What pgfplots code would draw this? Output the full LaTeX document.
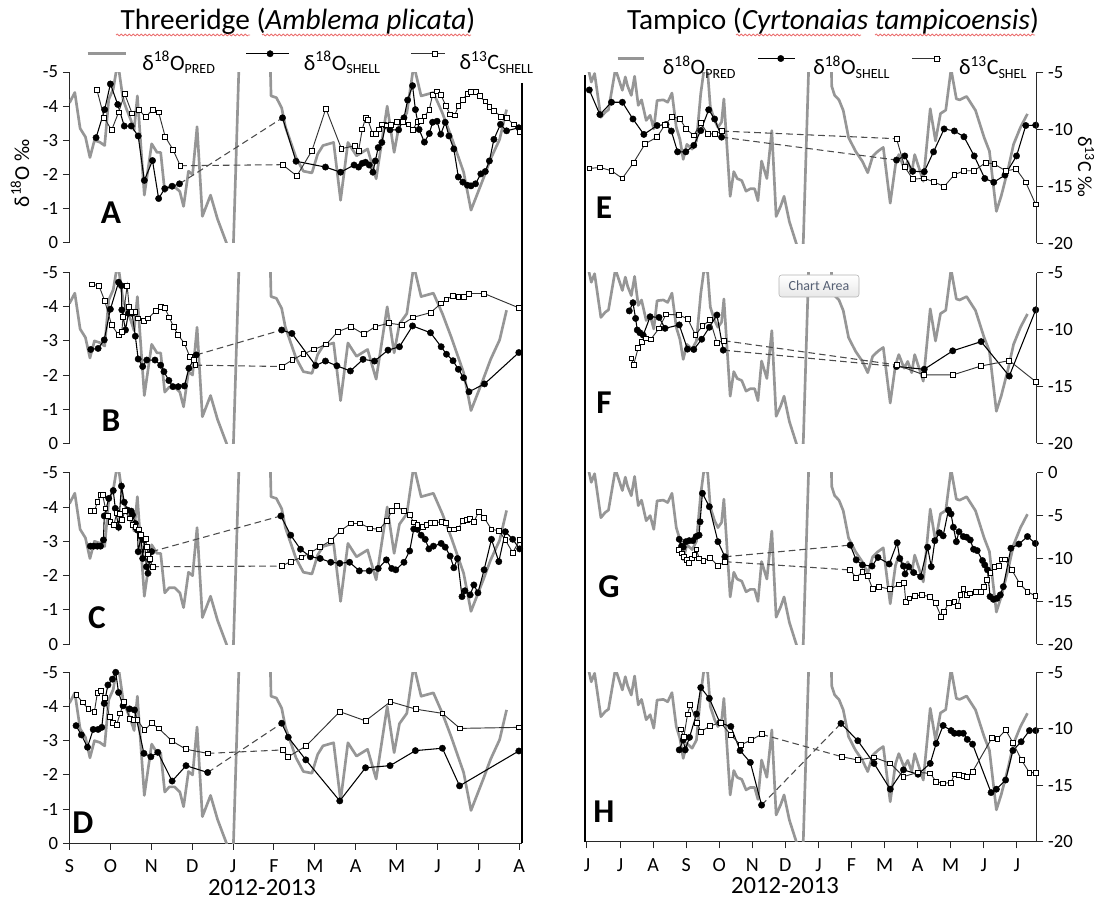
\documentclass[border=0pt]{standalone}
\usepackage{pgfplots}
\pgfplotsset{compat=1.18}
\usepackage{pgfplotstable}
\usepackage{fontspec}
\setmainfont{Carlito}
\usetikzlibrary{decorations.pathmorphing}

\definecolor{predgray}{RGB}{150,150,150}
\definecolor{axcol}{RGB}{40,40,40}
\definecolor{squig}{RGB}{235,110,110}

\newcommand{\sub}[1]{\raisebox{-0.35ex}{\fontsize{10.5}{11}\selectfont #1}}

\pgfplotstableread{
x y
0.00 -4.1
0.13 -4.4
0.26 -3.35
0.39 -3.1
0.50 -2.5
0.61 -3.0
0.74 -2.95
0.86 -2.85
0.96 -4.2
1.07 -4.5
1.18 -5.3
1.31 -4.2
1.40 -3.9
1.50 -3.6
1.58 -3.3
1.66 -4.3
1.83 -1.4
2.01 -2.9
2.14 -2.65
2.23 -2.65
2.33 -1.5
2.44 -1.65
2.57 -1.65
2.70 -1.5
2.79 -1.07
2.91 -2.1
3.01 -2.0
3.12 -3.4
3.25 -0.78
3.45 -1.4
3.62 -0.7
3.84 0.0
3.93 0.3
4.01 0.0
4.40 -15
4.70 -15
4.93 -4.3
5.06 -4.25
5.19 -3.95
5.28 -3.4
5.54 -2.5
5.72 -2.1
5.93 -2.05
6.07 -2.6
6.20 -2.85
6.46 -2.94
6.63 -1.25
6.81 -2.94
7.02 -2.55
7.29 -2.75
7.50 -1.88
7.77 -4.0
7.94 -2.65
8.07 -3.5
8.25 -3.8
8.42 -5.2
8.60 -4.3
8.90 -4.4
9.12 -3.8
9.34 -3.1
9.64 -2.07
9.82 -0.96
10.12 -1.88
10.30 -2.46
10.52 -3.03
10.69 -3.9
}\predL

\pgfplotstableread{
x y
0.02 -5.2
0.13 -4.72
0.23 -4.97
0.42 -3.69
0.55 -3.84
0.65 -3.91
0.86 -5.1
1.07 -4.48
1.16 -4.87
1.23 -4.6
1.34 -4.33
1.44 -4.89
1.55 -4.04
1.65 -4.2
1.79 -3.6
1.91 -3.75
2.02 -3.35
2.12 -4.18
2.31 -4.20
2.44 -4.13
2.57 -4.40
2.70 -3.40
2.81 -3.05
2.91 -2.46
3.02 -2.9
3.18 -2.76
3.31 -3.0
3.44 -4.38
3.54 -5.1
3.65 -5.0
3.73 -3.99
3.86 -3.6
3.96 -3.40
4.07 -3.55
4.14 -4.23
4.33 -1.38
4.44 -2.1
4.54 -1.9
4.68 -1.84
4.81 -1.53
4.94 -1.6
5.07 -1.6
5.17 -1.25
5.28 -2.41
5.44 -1.9
5.59 -3.30
5.72 -0.79
5.86 -1.1
5.96 -1.38
6.12 -0.64
6.33 0.0
6.44 0.3
6.54 0.0
6.90 -11.25
7.30 -12
7.40 -4.6
7.49 -4.33
7.62 -4.2
7.75 -3.89
7.91 -3.1
8.12 -2.7
8.33 -2.4
8.49 -2.07
8.64 -2.55
8.80 -2.7
8.96 -2.81
9.17 -1.18
9.33 -2.3
9.43 -2.6
9.59 -2.2
9.70 -2.4
9.82 -2.07
9.91 -2.6
10.17 -1.82
10.38 -3.94
10.54 -3.0
10.69 -3.8
10.85 -3.9
11.01 -5.1
11.17 -4.23
11.27 -4.2
11.48 -4.3
11.75 -3.89
12.01 -3.1
12.17 -2.7
12.38 -0.94
12.53 -1.4
12.74 -2.2
12.90 -2.9
13.11 -3.4
13.32 -3.79
}\predR

\pgfplotsset{
  every axis/.append style={
    scale only axis,
    /pgf/number format/assume math mode=true,
    tick label style={font=\fontsize{14}{16}\selectfont, text=black},
    tick align=outside,
    major tick length=5pt,
    axis line style={axcol, line width=0.75pt},
    every tick/.style={axcol, line width=0.75pt},
  },
  pred/.style={no marks, line width=2pt, predgray, line join=round},
  o18/.style={black, line width=0.8pt, mark=*, mark size=2.4pt, mark options={solid, fill=black, draw=black, line width=0.3pt}},
  c13/.style={black!80, line width=0.7pt, mark=square*, mark size=1.8pt, mark options={solid, fill=white, draw=black, line width=0.6pt}},
  bridge/.style={no marks, black!70, line width=0.8pt, dash pattern=on 5pt off 3pt},
  predlegL/.style={pred, legend image code/.code={\draw[##1] (0pt,6pt) -- (29pt,6pt);}},
  o18legL/.style={o18, legend image code/.code={\draw[mark repeat=2,mark phase=2,##1] plot coordinates {(0pt,6pt) (18pt,6pt) (32pt,6pt)};}},
  c13legL/.style={c13, legend image code/.code={\draw[mark repeat=2,mark phase=2,##1] plot coordinates {(0pt,6pt) (18pt,6pt) (25pt,6pt)};}},
  predlegR/.style={pred, legend image code/.code={\draw[##1] (0pt,6pt) -- (20pt,6pt);}},
  o18legR/.style={o18, legend image code/.code={\draw[mark repeat=2,mark phase=2,##1] plot coordinates {(0pt,6pt) (17pt,6pt) (28pt,6pt)};}},
  c13legR/.style={c13, legend image code/.code={\draw[mark repeat=2,mark phase=2,##1] plot coordinates {(0pt,6pt) (19pt,6pt) (22pt,6pt)};}},
  leftp/.style={width=339.15pt, xmin=0, xmax=11.06, ymin=-5, ymax=0, y dir=reverse,
    ytick={-5,-4,-3,-2,-1,0}, axis y line*=left},
  rightp/.style={width=338.775pt, xmin=-0.06, xmax=13.6, ymin=-5, ymax=0, y dir=reverse,
    axis y line=none},
  rights/.style={width=338.775pt, xmin=-0.06, xmax=13.6, ymin=-20, ymax=-5,
    ytick={-20,-15,-10,-5}, axis y line*=right, axis x line=none},
  noxaxis/.style={axis x line=none},
  monthsL/.style={axis x line*=bottom, xtick={0,...,11}, xticklabels={S,O,N,D,J,F,M,A,M,J,J,A},
    xticklabel style={font=\fontsize{15}{17}\selectfont, yshift=-4pt}},
  monthsR/.style={axis x line*=bottom, xtick={0,...,13}, xticklabels={J,J,A,S,O,N,D,J,F,M,A,M,J,J},
    xticklabel style={font=\fontsize{15}{17}\selectfont, yshift=-4pt}},
}

\begin{document}
\begin{tikzpicture}
\path[use as bounding box] (0,0) rectangle (829.5pt,678.75pt);

% ---------------- Panel A
\begin{axis}[leftp, noxaxis, at={(52.125pt,496.5pt)}, height=128.25pt,
  legend columns=3,
  legend style={draw=none, fill=none, at={(0.0365,1.06)}, anchor=west, inner sep=0pt,
    font=\fontsize{16.5}{19}\selectfont,
    /tikz/every even column/.append style={column sep=21pt},
    /tikz/every odd column/.append style={column sep=9pt}},
  legend cell align=left]
\addlegendimage{predlegL}\addlegendentry{δ\textsuperscript{18}O\sub{PRED}}
\addlegendimage{o18legL}\addlegendentry{δ\textsuperscript{18}O\sub{SHELL}}
\addlegendimage{c13legL}\addlegendentry{δ\textsuperscript{13}C\sub{SHELL}}
\addplot[pred, forget plot] table {\predL};
\addplot[o18, forget plot] coordinates {(0.65,-3.08)(0.86,-3.90)(1.00,-4.65)(1.18,-4.05)(1.34,-3.42)(1.51,-3.42)(1.68,-3.13)(1.83,-1.83)(2.03,-2.41)(2.18,-1.30)(2.33,-1.59)(2.51,-1.66)(2.69,-1.73)};
\addplot[bridge, forget plot] coordinates {(2.69,-1.73)(5.21,-3.66)};
\addplot[o18, forget plot] coordinates {(5.21,-3.66)(5.54,-2.39)(6.26,-2.22)(6.63,-2.07)(6.96,-2.28)(7.07,-2.22)(7.16,-2.33)(7.24,-2.36)(7.33,-2.28)(7.42,-2.07)(7.48,-2.40)(7.55,-2.79)(7.64,-2.94)(7.73,-3.44)(7.84,-3.31)(8.05,-3.31)(8.18,-3.66)(8.27,-4.18)(8.39,-4.60)(8.46,-3.90)(8.55,-3.32)(8.68,-2.95)(8.80,-3.20)(8.88,-3.53)(8.99,-3.56)(9.08,-3.18)(9.19,-3.53)(9.28,-3.13)(9.40,-2.75)(9.51,-1.93)(9.62,-1.78)(9.73,-1.69)(9.82,-1.67)(9.93,-1.73)(10.06,-2.02)(10.17,-2.09)(10.27,-2.40)(10.38,-3.03)(10.54,-3.47)(10.69,-3.28)(10.99,-3.37)};
\addplot[c13, forget plot] coordinates {(0.67,-4.48)(0.85,-3.66)(1.03,-3.30)(1.20,-3.82)(1.35,-4.36)(1.53,-3.79)(1.70,-3.90)(1.86,-3.68)(2.03,-3.90)(2.18,-3.82)(2.34,-3.11)(2.53,-2.73)(2.71,-2.26)};
\addplot[bridge, forget plot] coordinates {(2.71,-2.26)(5.21,-2.29)};
\addplot[c13, forget plot] coordinates {(5.21,-2.29)(5.56,-1.96)(5.93,-2.70)(6.27,-3.93)(6.65,-2.76)(6.98,-2.84)(7.07,-2.70)(7.16,-3.32)(7.24,-3.66)(7.30,-3.59)(7.42,-3.18)(7.50,-3.18)(7.57,-3.32)(7.64,-3.47)(7.77,-3.44)(7.87,-3.46)(8.00,-3.54)(8.16,-3.54)(8.29,-3.47)(8.39,-3.31)(8.51,-3.53)(8.60,-3.56)(8.68,-3.70)(8.80,-3.90)(8.88,-4.34)(8.99,-4.43)(9.08,-4.34)(9.21,-4.00)(9.31,-3.76)(9.42,-3.73)(9.51,-4.00)(9.62,-4.19)(9.73,-4.37)(9.82,-4.41)(9.93,-4.41)(10.03,-4.29)(10.17,-4.14)(10.27,-3.98)(10.38,-3.87)(10.56,-3.69)(10.69,-3.66)(10.86,-3.47)(11.01,-3.25)};
\end{axis}

% ---------------- Panel B
\begin{axis}[leftp, noxaxis, at={(52.125pt,346.275pt)}, height=127.95pt]
\addplot[pred] table {\predL};
\addplot[o18] coordinates {(0.52,-2.75)(0.70,-2.78)(0.85,-3.03)(1.00,-3.93)(1.20,-4.72)(1.27,-4.62)(1.28,-3.91)(1.37,-3.32)(1.44,-3.81)(1.53,-3.81)(1.61,-3.14)(1.68,-2.47)(1.79,-2.25)(1.89,-2.44)(2.09,-2.44)(2.23,-2.29)(2.31,-2.10)(2.43,-1.84)(2.53,-1.66)(2.66,-1.66)(2.81,-1.68)(2.92,-2.20)(3.10,-2.59)};
\addplot[bridge] coordinates {(3.10,-2.59)(5.19,-3.32)};
\addplot[o18] coordinates {(5.19,-3.32)(5.44,-3.22)(6.02,-2.28)(6.26,-2.41)(6.54,-2.27)(6.87,-2.12)(7.18,-2.46)(7.46,-2.41)(7.79,-2.73)(8.07,-2.83)(8.39,-3.44)(8.83,-3.24)(9.09,-2.83)(9.22,-2.61)(9.38,-2.42)(9.51,-2.17)(9.64,-1.92)(9.77,-1.51)(10.15,-1.74)(10.99,-2.66)};
\addplot[c13] coordinates {(0.55,-4.66)(0.72,-4.62)(0.86,-4.18)(1.03,-3.47)(1.20,-3.17)(1.28,-3.27)(1.31,-3.71)(1.41,-4.62)(1.46,-4.00)(1.53,-3.86)(1.61,-3.86)(1.68,-3.66)(1.81,-3.59)(1.92,-3.66)(2.11,-3.88)(2.23,-4.00)(2.33,-3.97)(2.44,-3.69)(2.55,-3.40)(2.66,-3.17)(2.81,-2.93)(2.94,-2.54)(3.05,-2.44)(3.08,-2.29)};
\addplot[bridge] coordinates {(3.08,-2.29)(5.19,-2.25)};
\addplot[c13] coordinates {(5.19,-2.25)(5.45,-2.44)(5.72,-2.62)(5.98,-2.75)(6.28,-2.90)(6.56,-3.27)(6.88,-3.42)(7.20,-3.20)(7.48,-3.42)(7.81,-3.52)(8.12,-3.47)(8.40,-3.69)(8.83,-3.83)(9.09,-4.10)(9.22,-4.22)(9.38,-4.33)(9.51,-4.30)(9.64,-4.28)(9.77,-4.39)(10.14,-4.39)(10.99,-3.97)};
\end{axis}

% ---------------- Panel C
\begin{axis}[leftp, noxaxis, at={(52.125pt,195.525pt)}, height=128.7pt]
\addplot[pred] table {\predL};
\addplot[o18] coordinates {(0.51,-2.86)(0.59,-2.86)(0.68,-2.86)(0.76,-2.86)(0.83,-3.04)(0.85,-3.74)(0.96,-4.25)(1.07,-4.48)(1.12,-3.96)(1.20,-3.41)(1.27,-4.61)(1.34,-4.14)(1.42,-3.91)(1.51,-3.88)(1.54,-3.77)(1.61,-3.52)(1.66,-3.33)(1.68,-2.70)(1.75,-3.14)(1.79,-2.50)(1.83,-3.04)(1.88,-2.26)(1.92,-2.07)(1.96,-2.46)(2.01,-2.70)};
\addplot[bridge] coordinates {(2.01,-2.70)(5.17,-3.74)};
\addplot[o18] coordinates {(5.17,-3.74)(5.41,-3.18)(5.65,-2.77)(5.89,-2.55)(6.13,-2.50)(6.39,-2.39)(6.61,-2.36)(6.85,-2.39)(7.09,-2.14)(7.33,-2.14)(7.55,-2.21)(7.75,-2.46)(7.88,-2.21)(7.98,-2.17)(8.18,-2.39)(8.32,-2.72)(8.42,-3.36)(8.51,-3.35)(8.60,-3.18)(8.70,-3.06)(8.79,-2.78)(8.90,-2.86)(9.09,-2.94)(9.19,-2.83)(9.31,-2.57)(9.40,-2.23)(9.49,-2.50)(9.60,-1.39)(9.67,-1.56)(9.80,-1.44)(9.89,-1.73)(9.99,-1.50)(10.14,-2.17)(10.32,-3.06)(10.50,-2.41)(10.66,-3.28)(10.84,-3.06)(11.01,-2.78)};
\addplot[c13] coordinates {(0.52,-3.88)(0.61,-3.88)(0.68,-4.14)(0.76,-4.35)(0.81,-4.35)(0.88,-3.96)(0.94,-3.74)(1.00,-3.57)(1.09,-3.48)(1.15,-3.83)(1.24,-3.79)(1.29,-3.62)(1.35,-3.88)(1.48,-3.67)(1.54,-3.48)(1.61,-3.41)(1.70,-3.35)(1.75,-3.18)(1.86,-3.07)(1.89,-2.83)(1.92,-2.62)(1.96,-2.49)(2.03,-2.26)};
\addplot[bridge] coordinates {(2.03,-2.26)(5.19,-2.28)};
\addplot[c13] coordinates {(5.19,-2.28)(5.41,-2.41)(5.67,-2.53)(5.89,-2.67)(6.13,-2.84)(6.39,-3.02)(6.63,-3.31)(6.88,-3.52)(7.11,-3.52)(7.35,-3.38)(7.57,-3.35)(7.77,-3.60)(7.88,-3.89)(8.00,-4.03)(8.18,-3.88)(8.32,-3.77)(8.42,-3.55)(8.51,-3.48)(8.64,-3.41)(8.73,-3.48)(8.83,-3.54)(8.93,-3.54)(9.10,-3.57)(9.21,-3.54)(9.31,-3.35)(9.41,-3.35)(9.51,-3.38)(9.62,-3.59)(9.71,-3.62)(9.80,-3.65)(9.89,-3.57)(10.01,-3.86)(10.14,-3.69)(10.32,-3.35)(10.50,-3.31)(10.66,-3.04)(10.84,-2.67)(11.01,-3.04)};
\end{axis}

% ---------------- Panel D
\begin{axis}[leftp, monthsL, at={(52.125pt,46.275pt)}, height=128.25pt]
\addplot[pred] table {\predL};
\addplot[o18] coordinates {(0.16,-3.44)(0.29,-3.17)(0.44,-2.81)(0.58,-3.33)(0.70,-3.33)(0.79,-3.39)(0.85,-4.09)(0.94,-4.63)(1.05,-4.80)(1.13,-5.00)(1.20,-4.41)(1.31,-4.02)(1.47,-3.93)(1.59,-3.90)(1.82,-2.63)(1.99,-2.53)(2.16,-2.66)(2.51,-1.82)(2.85,-2.27)(3.38,-2.07)};
\addplot[bridge] coordinates {(3.38,-2.07)(5.19,-3.51)};
\addplot[o18] coordinates {(5.19,-3.51)(5.35,-3.10)(5.78,-2.44)(6.61,-1.24)(7.24,-2.21)(7.84,-2.27)(8.46,-2.71)(9.12,-2.78)(9.54,-1.68)(10.99,-2.70)};
\addplot[c13] coordinates {(0.17,-4.34)(0.32,-4.12)(0.46,-3.93)(0.61,-3.85)(0.68,-4.39)(0.77,-4.46)(0.86,-4.26)(0.98,-3.70)(1.06,-3.51)(1.15,-3.46)(1.24,-3.80)(1.33,-4.14)(1.48,-3.64)(1.57,-3.61)(1.66,-3.61)(1.83,-3.31)(2.01,-3.51)(2.18,-3.36)(2.51,-2.99)(2.85,-2.75)(3.38,-2.63)};
\addplot[bridge] coordinates {(3.38,-2.63)(5.21,-2.73)};
\addplot[c13] coordinates {(5.21,-2.73)(5.35,-2.53)(5.79,-2.85)(6.61,-3.85)(7.24,-3.58)(7.85,-4.14)(8.48,-3.92)(9.12,-3.80)(9.55,-3.36)(10.99,-3.39)};
\end{axis}

% ---------------- Panel E
\begin{axis}[rightp, noxaxis, at={(438.75pt,496.125pt)}, height=128.25pt,
  legend columns=3,
  legend style={draw=none, fill=none, at={(0.0686,1.035)}, anchor=west, inner sep=0pt,
    font=\fontsize{16.5}{19}\selectfont,
    /tikz/every even column/.append style={column sep=14.5pt},
    /tikz/every odd column/.append style={column sep=11pt}},
  legend cell align=left]
\addlegendimage{predlegR}\addlegendentry{δ\textsuperscript{18}O\sub{PRED}}
\addlegendimage{o18legR}\addlegendentry{δ\textsuperscript{18}O\sub{SHELL}}
\addlegendimage{c13legR}\addlegendentry{δ\textsuperscript{13}C\sub{SHEL}}
\addplot[pred, forget plot] table {\predR};
\addplot[o18, forget plot] coordinates {(0.07,-4.49)(0.39,-3.77)(0.74,-4.13)(1.07,-4.13)(1.39,-3.64)(1.72,-3.19)(2.12,-3.45)(2.39,-3.48)(2.55,-3.29)(2.74,-2.68)(2.99,-2.68)(3.23,-2.87)(3.44,-3.30)(3.68,-3.91)(3.86,-3.64)(4.07,-3.11)};
\addplot[bridge, forget plot] coordinates {(4.07,-3.11)(9.36,-2.44)};
\addplot[o18, forget plot] coordinates {(9.36,-2.44)(9.61,-2.56)(9.85,-2.11)(10.20,-2.10)(10.48,-2.68)(10.80,-3.35)(11.11,-3.29)(11.40,-3.12)(11.71,-2.56)(12.03,-1.90)(12.30,-1.79)(12.64,-2.00)(12.99,-2.56)(13.27,-3.45)(13.57,-3.46)};
\end{axis}
\begin{axis}[rights, at={(438.75pt,496.125pt)}, height=128.25pt]
\addplot[c13] coordinates {(0.07,-13.42)(0.39,-13.33)(0.74,-13.62)(1.07,-14.29)(1.41,-12.90)(1.76,-11.25)(2.12,-10.67)(2.36,-9.57)(2.57,-8.90)(2.81,-9.04)(2.99,-9.94)(3.23,-10.52)(3.44,-9.42)(3.65,-10.38)(3.86,-10.38)(4.09,-10.14)};
\addplot[bridge] coordinates {(4.09,-10.14)(9.36,-10.81)};
\addplot[c13] coordinates {(9.36,-10.81)(9.61,-13.28)(9.85,-14.35)(10.20,-14.29)(10.48,-14.58)(10.80,-15.01)(11.11,-13.97)(11.40,-13.62)(11.71,-13.62)(12.06,-12.90)(12.32,-13.04)(12.66,-13.62)(12.98,-13.48)(13.27,-14.64)(13.57,-16.58)};
\end{axis}

% ---------------- Panel F
\begin{axis}[rightp, noxaxis, at={(438.75pt,346.275pt)}, height=127.95pt]
\addplot[pred] table {\predR};
\addplot[o18] coordinates {(1.28,-3.88)(1.39,-4.12)(1.47,-3.66)(1.52,-3.32)(1.60,-3.24)(1.70,-3.17)(1.91,-3.71)(2.18,-3.69)(2.36,-3.37)(2.79,-3.47)(3.04,-2.76)(3.23,-2.75)(3.47,-3.05)(3.70,-3.40)(3.93,-3.76)(4.12,-2.73)};
\addplot[bridge] coordinates {(4.12,-2.73)(9.36,-2.25)};
\addplot[o18] coordinates {(9.36,-2.25)(10.20,-2.17)(11.06,-2.71)(11.92,-2.98)(12.77,-1.97)(13.57,-3.91)};
\end{axis}
\begin{axis}[rights, at={(438.75pt,346.275pt)}, height=127.95pt]
\addplot[c13] coordinates {(1.34,-12.53)(1.41,-13.11)(1.55,-11.59)(1.65,-11.06)(1.79,-10.77)(1.93,-10.86)(2.18,-9.89)(2.39,-8.66)(2.79,-8.72)(3.05,-9.07)(3.28,-10.48)(3.49,-9.69)(3.72,-9.16)(3.93,-11.15)(4.14,-10.98)};
\addplot[bridge] coordinates {(4.14,-10.98)(9.36,-13.11)};
\addplot[c13] coordinates {(9.36,-13.11)(10.20,-13.99)(11.06,-13.99)(11.92,-13.20)(12.77,-12.73)(13.57,-14.58)};
\end{axis}

% ---------------- Panel G
\begin{axis}[rightp, noxaxis, at={(438.75pt,195.525pt)}, height=128.7pt]
\addplot[pred] table {\predR};
\addplot[o18] coordinates {(2.79,-3.06)(2.86,-2.86)(2.91,-2.83)(2.99,-2.99)(3.09,-3.02)(3.20,-3.02)(3.30,-3.14)(3.39,-3.18)(3.42,-3.57)(3.49,-4.40)(3.70,-4.01)(3.96,-2.99)(4.17,-2.55)};
\addplot[bridge] coordinates {(4.17,-2.55)(7.96,-2.89)};
\addplot[o18] coordinates {(7.96,-2.89)(8.14,-2.46)(8.33,-2.31)(8.62,-2.28)(8.80,-2.53)(9.14,-2.34)(9.38,-2.96)(9.46,-2.50)(9.57,-2.28)(9.62,-2.05)(9.73,-2.26)(9.88,-2.09)(10.09,-1.97)(10.30,-2.83)(10.41,-2.26)(10.52,-3.02)(10.66,-3.25)(10.77,-3.16)(10.93,-3.91)(11.01,-3.80)(11.08,-3.41)(11.17,-2.99)(11.25,-3.28)(11.38,-3.14)(11.48,-3.12)(11.59,-3.04)(11.69,-2.77)(11.80,-2.73)(11.96,-2.44)(12.03,-2.31)(12.11,-2.17)(12.19,-1.39)(12.29,-1.31)(12.40,-1.34)(12.50,-1.44)(12.59,-1.68)(12.82,-2.80)(13.06,-2.92)(13.32,-3.14)(13.56,-2.94)};
\end{axis}
\begin{axis}[rights, at={(438.75pt,195.525pt)}, height=128.7pt, ymax=0, ytick={-20,-15,-10,-5,0}]
\addplot[c13] coordinates {(2.79,-9.01)(2.86,-9.40)(2.93,-9.86)(3.02,-10.17)(3.09,-10.49)(3.18,-9.98)(3.25,-9.59)(3.31,-8.93)(3.39,-9.98)(3.52,-10.29)(3.72,-9.90)(3.96,-10.87)(4.17,-10.37)};
\addplot[bridge] coordinates {(4.17,-10.37)(7.96,-11.34)};
\addplot[c13] coordinates {(7.96,-11.34)(8.14,-12.23)(8.33,-11.53)(8.49,-12.04)(8.64,-13.59)(8.82,-13.28)(9.17,-13.59)(9.43,-13.01)(9.59,-12.89)(9.64,-15.03)(9.75,-14.64)(9.91,-14.37)(10.12,-14.25)(10.38,-14.45)(10.54,-15.22)(10.71,-16.78)(10.80,-16.19)(10.94,-15.15)(11.11,-15.03)(11.22,-15.53)(11.29,-14.25)(11.38,-13.59)(11.48,-14.25)(11.59,-14.06)(11.75,-13.86)(11.90,-13.86)(12.01,-13.28)(12.09,-12.50)(12.20,-11.65)(12.32,-10.95)(12.45,-10.87)(12.53,-10.10)(12.64,-10.10)(12.85,-11.34)(13.09,-12.97)(13.32,-13.86)(13.56,-14.37)};
\end{axis}

% ---------------- Panel H
\begin{axis}[rightp, monthsR, at={(438.75pt,47.475pt)}, height=127.05pt]
\addplot[pred] table {\predR};
\addplot[o18] coordinates {(2.79,-2.71)(2.91,-3.00)(2.97,-2.71)(3.10,-3.08)(3.31,-3.77)(3.44,-4.55)(3.70,-4.23)(4.02,-3.51)(4.35,-3.40)(4.63,-2.69)(4.94,-2.34)(5.28,-1.08)};
\addplot[bridge] coordinates {(5.28,-1.08)(7.68,-3.49)};
\addplot[o18] coordinates {(7.68,-3.49)(8.19,-2.98)(8.68,-2.31)(9.17,-1.55)(9.57,-2.12)(10.01,-1.99)(10.38,-2.31)(10.56,-2.90)(10.77,-3.43)(11.01,-3.28)(11.11,-3.20)(11.25,-3.20)(11.38,-3.20)(11.50,-3.02)(11.66,-2.88)(12.22,-1.45)(12.38,-1.55)(12.66,-1.82)(12.88,-2.69)(13.13,-2.95)(13.38,-3.28)(13.57,-3.28)};
\end{axis}
\begin{axis}[rights, at={(438.75pt,47.475pt)}, height=127.05pt]
\addplot[c13] coordinates {(2.83,-10.05)(2.93,-10.70)(3.04,-8.72)(3.12,-7.90)(3.33,-9.46)(3.44,-10.26)(3.72,-9.75)(4.04,-9.46)(4.35,-10.55)(4.65,-11.44)(4.96,-11.00)(5.28,-10.49)};
\addplot[bridge] coordinates {(5.28,-10.49)(7.70,-12.47)};
\addplot[c13] coordinates {(7.70,-12.47)(8.19,-12.77)(8.68,-12.53)(9.17,-13.06)(9.57,-14.24)(10.01,-13.86)(10.38,-13.95)(10.56,-14.69)(10.77,-14.83)(11.01,-14.77)(11.11,-14.04)(11.25,-14.10)(11.38,-14.18)(11.50,-14.24)(11.66,-13.80)(12.25,-10.79)(12.41,-10.91)(12.66,-10.11)(12.88,-11.23)(13.14,-12.77)(13.38,-13.89)(13.57,-13.89)};
\end{axis}

% ---------------- annotations (pixel coordinates)
\begin{scope}[x=0.75pt,y=-0.75pt,yshift=678.75pt]
\node[font=\fontsize{22}{26}\selectfont] at (298,21) {Threeridge (\textit{Amblema plicata})};
\node[font=\fontsize{22}{26}\selectfont] at (833,21) {Tampico (\textit{Cyrtonaias tampicoensis})};
\begin{scope}[squig, line width=0.6pt, decorate, decoration={snake, amplitude=0.7pt, segment length=3pt}]
\draw[decorate] (116,35) -- (250,35);
\draw[decorate] (262,35) -- (471,35);
\draw[decorate] (736,35) -- (861,35);
\draw[decorate] (875,35) -- (1035,35);
\end{scope}
\draw[line width=1.6pt] (521.7,83) -- (521.7,843.3);
\draw[line width=1.6pt] (585,75) -- (585,842);
\foreach \l/\x/\y in {A/111/213,B/111/421,C/97/618,D/83/823,E/604/208,F/604/403,G/609/587,H/604/812}
  \node[font=\fontsize{25}{27}\selectfont\bfseries] at (\x,\y) {\l};
\node[rotate=90, font=\fontsize{16}{18}\selectfont] at (20,173) {δ\textsuperscript{18}O ‰};
\node[rotate=-90, font=\fontsize{15}{17}\selectfont] at (1086,167) {δ\textsuperscript{13}C ‰};
\node[font=\fontsize{18.5}{20}\selectfont] at (262,888) {2012-2013};
\node[font=\fontsize{18.5}{20}\selectfont] at (785,886) {2012-2013};
\node[draw=gray!60, rounded corners=2pt, top color=white, bottom color=gray!18,
  minimum width=60pt, minimum height=16.5pt, inner sep=1pt,
  font=\fontsize{10.5}{12}\selectfont, text={rgb,255:red,85;green,95;blue,115}] at (819,286) {Chart Area};
\end{scope}
\end{tikzpicture}
\end{document}
